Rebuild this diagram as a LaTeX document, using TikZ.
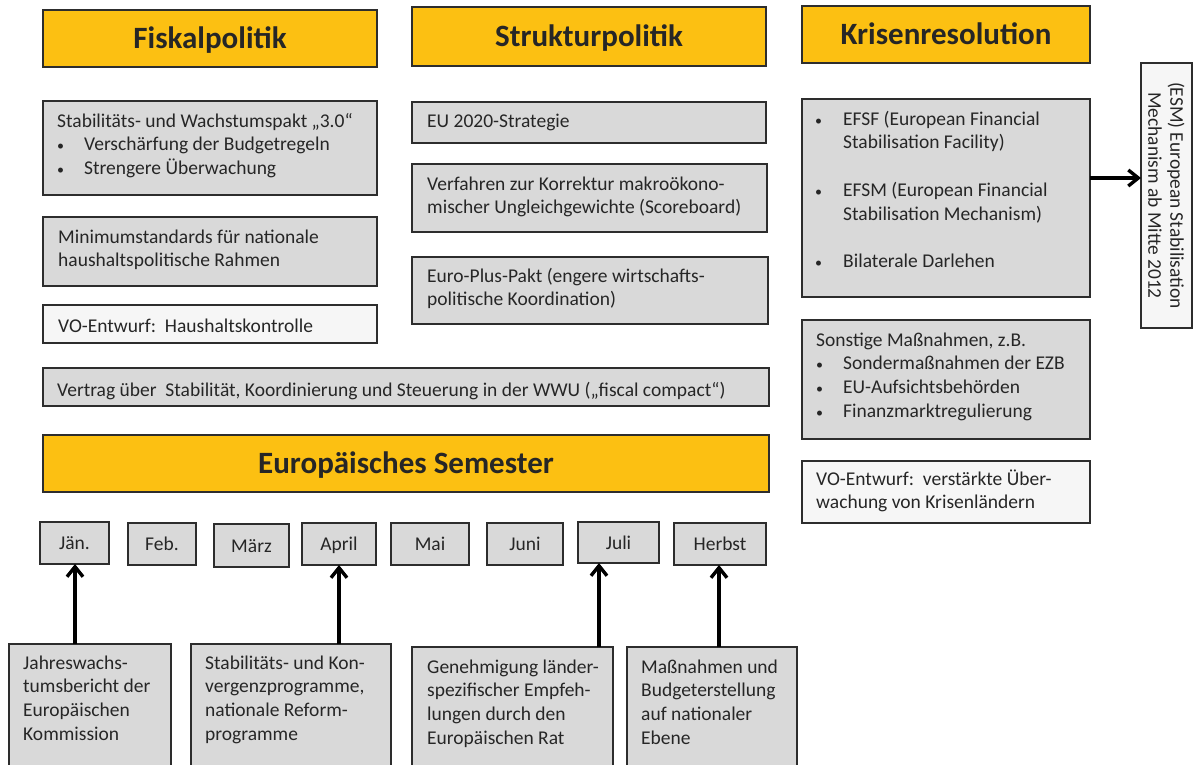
\documentclass[tikz,border=0pt]{standalone}
\usepackage{fontspec}
\setmainfont{Carlito}
\usetikzlibrary{arrows.meta,calc}
\definecolor{hdrC}{RGB}{252,192,18}
\definecolor{boxC}{RGB}{217,217,217}
\definecolor{lightC}{RGB}{246,246,246}
\definecolor{lineC}{RGB}{45,45,45}
\definecolor{txtC}{RGB}{38,38,38}
\newcommand\bx[7]{\node[#6, anchor=north west, minimum width=\fpeval{#4-#2}pt, minimum height=\fpeval{#5-#3}pt] (#1) at (#2,#3) {#7};}
\newcommand\tx[4]{\node[txt, anchor=north west] (#1) at (#2,\fpeval{#3-16.59}) {\strut#4};}
\newcommand\bdot{\makebox[5pt][c]{\fontsize{14}{14}\selectfont•}}
\newcommand\bul{\makebox[27pt][l]{\hspace{1pt}\bdot}}
\newcommand\bulw{\makebox[28pt][l]{\hspace{1pt}\bdot}}
\tikzset{
  boxbase/.style={draw=lineC, line width=1.3pt, inner sep=0pt, outer sep=0pt},
  hdrbox/.style={boxbase, fill=hdrC, text=txtC, font=\fontsize{31}{37}\selectfont\bfseries, text height=20pt, text depth=0pt},
  graybox/.style={boxbase, fill=boxC},
  lightbox/.style={boxbase, fill=lightC},
  monthbox/.style={boxbase, fill=boxC, text=txtC, font=\fontsize{19.5}{23.7}\selectfont, text height=13pt, text depth=0pt},
  txt/.style={inner sep=0pt, align=left, text=txtC, font=\fontsize{19.5}{23.7}\selectfont},
  arr/.style={draw=black, line width=3.4pt, -{Straight Barb[length=10pt,width=16pt]}}
}
\begin{document}
\begin{tikzpicture}[x=1pt,y=-1pt]
\clip (0,0) rectangle (1193,764);
\fill[white] (0,0) rectangle (1193,764);
% headers
\bx{fisk}{43}{10}{377}{67}{hdrbox}{Fiskalpolitik}
\bx{strk}{412}{7}{766}{66}{hdrbox}{Strukturpolitik}
\bx{kris}{802}{6}{1090}{63}{hdrbox}{Krisenresolution}
\bx{sem}{43}{435}{769}{492}{hdrbox}{Europäisches Semester}
% Fiskalpolitik
\bx{stab}{43}{101}{377}{195}{graybox}{}
\bx{minim}{43}{217}{377}{286}{graybox}{}
\bx{vohk}{43}{305}{377}{343}{lightbox}{}
\bx{vertr}{43}{368}{769}{406}{graybox}{}
\tx{stabt}{57}{127}{Stabilitäts- und Wachstumspakt „3.0“\\\bul Verschärfung der Budgetregeln\\\bul Strengere Überwachung}
\tx{minimt}{58}{243}{Minimumstandards für nationale\\haushaltspolitische Rahmen}
\tx{vohkt}{58}{332}{VO-Entwurf:\ \ Haushaltskontrolle}
\tx{vertrt}{57}{396}{Vertrag über\ \ Stabilität, Koordinierung und Steuerung in der WWU („fiscal compact“)}
% Strukturpolitik
\bx{eu}{412}{102}{766}{143}{graybox}{}
\bx{verf}{412}{164}{767}{232}{graybox}{}
\bx{eplus}{412}{257}{768}{324}{graybox}{}
\tx{eut}{427}{127}{EU 2020-Strategie}
\tx{verft}{427}{190}{Verfahren zur Korrektur makroökono-\\mischer Ungleichgewichte (Scoreboard)}
\tx{eplust}{427}{282}{Euro-Plus-Pakt (engere wirtschafts-\\politische Koordination)}
% Krisenresolution
\bx{efsf}{802}{99}{1090}{297}{graybox}{}
\bx{esm}{1141}{63}{1192}{328}{lightbox}{}
\bx{sonst}{802}{320}{1090}{439}{graybox}{}
\bx{vokr}{802}{461}{1090}{523}{lightbox}{}
\tx{efsft}{815}{125}{\bulw EFSF (European Financial\\\makebox[28pt]{}Stabilisation Facility)\\[23.8pt]\bulw EFSM (European Financial\\\makebox[28pt]{}Stabilisation Mechanism)\\[23.8pt]\bulw Bilaterale Darlehen}
\tx{sonstt}{816}{346}{Sonstige Maßnahmen, z.B.\\\bul Sondermaßnahmen der EZB\\\bul EU-Aufsichtsbehörden\\\bul Finanzmarktregulierung}
\tx{vokrt}{816}{485}{VO-Entwurf:\ \ verstärkte Über-\\wachung von Krisenländern}
\node[txt, align=center, rotate=-90, font=\fontsize{19.4}{22}\selectfont] (esmt) at (esm.center) {(ESM) European Stabilisation\\Mechanism ab Mitte 2012};
\coordinate (ea) at ([yshift=20pt]efsf.east);
\draw[arr] (ea) -- (ea -| esm.west);
% months
\bx{jan}{40}{522}{109}{564}{monthbox}{Jän.}
\bx{feb}{128}{523}{196}{565}{monthbox}{Feb.}
\bx{maerz}{214}{524}{289}{567}{monthbox}{März}
\bx{april}{302}{523}{376}{565}{monthbox}{April}
\bx{mai}{391}{523}{469}{565}{monthbox}{Mai}
\bx{juni}{487}{523}{563}{565}{monthbox}{Juni}
\bx{juli}{578}{522}{659}{563}{monthbox}{Juli}
\bx{herbst}{674}{523}{766}{565}{monthbox}{Herbst}
% bottom boxes
\bx{jahr}{9}{644}{171}{775}{graybox}{}
\bx{stko}{191}{644}{391}{775}{graybox}{}
\bx{gen}{412}{647}{613}{775}{graybox}{}
\bx{mass}{627}{647}{797}{775}{graybox}{}
\tx{jahrt}{23}{669}{Jahreswachs-\\tumsbericht der\\Europäischen\\Kommission}
\tx{stkot}{205}{669}{Stabilitäts- und Kon-\\vergenzprogramme,\\nationale Reform-\\programme}
\tx{gent}{427}{673}{Genehmigung länder-\\spezifischer Empfeh-\\lungen durch den\\Europäischen Rat}
\tx{masst}{641}{673}{Maßnahmen und\\Budgeterstellung\\auf nationaler\\Ebene}
% arrows
\coordinate (ja) at ([xshift=0.5pt]jan.south);
\draw[arr] (ja |- jahr.north) -- (ja);
\draw[arr] (april.south |- stko.north) -- (april.south);
\coordinate (jl) at ([xshift=-19.5pt]juli.south);
\draw[arr] (jl |- gen.north) -- (jl);
\coordinate (hb) at ([xshift=-1pt]herbst.south);
\draw[arr] (hb |- mass.north) -- (hb);
\end{tikzpicture}
\end{document}
